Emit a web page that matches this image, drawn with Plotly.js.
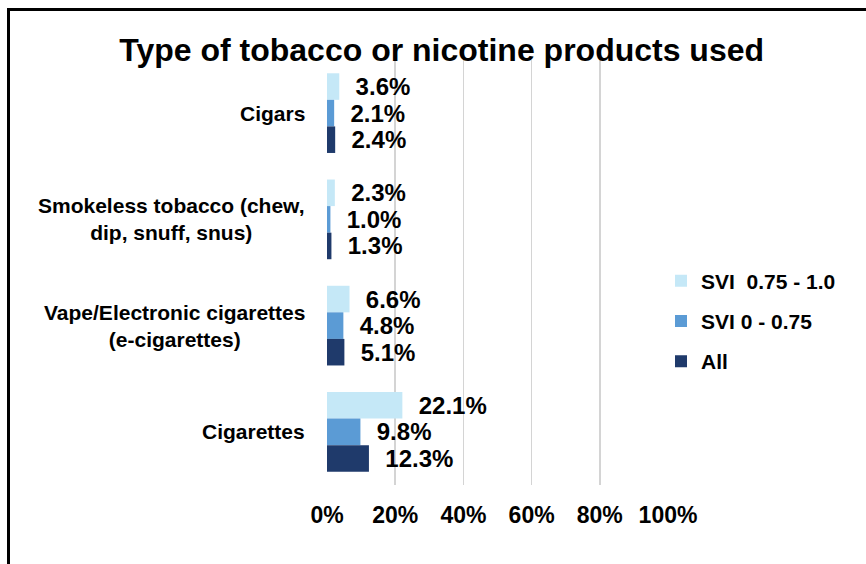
<!DOCTYPE html>
<html>
<head>
<meta charset="utf-8">
<script src="https://cdn.plot.ly/plotly-3.0.1.min.js"></script>
<style>
  html, body { margin: 0; padding: 0; background: #fff; overflow: hidden; }
  #wrap { position: relative; width: 866px; height: 564px; }
  #chart { position: absolute; left: 0; top: 0; width: 866px; height: 564px; }
  #frame { position: absolute; left: 7px; top: 8px; width: 900px; height: 600px;
           border-top: 3px solid #000; border-left: 3px solid #000; pointer-events: none; }
</style>
</head>
<body>
<div id="wrap">
  <div id="chart"></div>
  <div id="frame"></div>
</div>
<script>
// ---- data ----
const categories = ["Cigars", "Smokeless tobacco (chew,<br>dip, snuff, snus)", "Vape/Electronic cigarettes<br>(e-cigarettes)", "Cigarettes"];
const seriesNames = ["SVI\u00A0 0.75 - 1.0", "SVI 0 - 0.75", "All"];
const svi075to1 = [3.6, 2.3, 6.6, 22.1];
const svi0to075 = [2.1, 1.0, 4.8, 9.8];
const allValues = [2.4, 1.3, 5.1, 12.3];
const tickValues = [0, 20, 40, 60, 80, 100];
const tickLabels = ["0%", "20%", "40%", "60%", "80%", "100%"];

const colors = ["#C5E8F7", "#5B9BD5", "#1F3A6B"];
const seriesValues = [svi075to1, svi0to075, allValues];
const FONT = '"Liberation Sans", Arial, sans-serif';

const traces = seriesValues.map((vals, i) => ({
  type: 'bar',
  orientation: 'h',
  name: seriesNames[i],
  legendgroup: 'g' + i,
  y: categories,
  x: vals,
  marker: { color: colors[i], line: { width: 0 } },
  text: vals.map(v => v.toFixed(1) + '%'),
  texttemplate: '\u00A0\u00A0%{text}',
  textposition: 'outside',
  constraintext: 'none',
  cliponaxis: false,
  textfont: { family: FONT, size: 24, color: '#000', weight: 'bold' },
  hoverinfo: 'x+y'
}));

const annotations = categories.map(c => ({
  xref: 'paper', yref: 'y', x: 0, y: c,
  xanchor: 'right', yanchor: 'middle', xshift: -20,
  text: c, showarrow: false, align: 'center',
  font: { family: FONT, size: 21, color: '#000', weight: 'bold' }
}));

const layout = {
  width: 866, height: 564,
  paper_bgcolor: '#fff', plot_bgcolor: '#fff',
  margin: { l: 327, r: 198, t: 60, b: 79, pad: 0 },
  font: { family: FONT, color: '#000' },
  title: {
    text: 'Type of tobacco or nicotine products used',
    font: { family: FONT, size: 32, color: '#000', weight: 'bold' },
    x: 0.51, xanchor: 'center', xref: 'container',
    y: 1 - 50 / 564, yanchor: 'middle', yref: 'container'
  },
  barmode: 'group',
  bargap: 0.25,
  bargroupgap: 0,
  xaxis: {
    range: [0, 100],
    tickvals: tickValues,
    ticktext: tickLabels,
    showgrid: true, gridcolor: '#D4D4D4', gridwidth: 1.5,
    zeroline: false, showline: false, ticks: '',
    ticklabelstandoff: 14,
    tickfont: { family: FONT, size: 23, color: '#000', weight: 'bold' },
    fixedrange: true
  },
  yaxis: {
    type: 'category',
    categoryorder: 'array', categoryarray: categories,
    range: [3.5, -0.5],
    showticklabels: false, showgrid: false, zeroline: false, showline: false, ticks: '',
    fixedrange: true
  },
  showlegend: true,
  legend: {
    x: (661 - 327) / 341, xanchor: 'left',
    y: (485 - 321) / 425, yanchor: 'middle',
    traceorder: 'grouped',
    tracegroupgap: 10,
    font: { family: FONT, size: 21, color: '#000', weight: 'bold' },
    bgcolor: 'rgba(0,0,0,0)', borderwidth: 0
  },
  annotations: annotations
};

Plotly.newPlot('chart', traces, layout, { displayModeBar: false, staticPlot: true });
</script>
</body>
</html>
